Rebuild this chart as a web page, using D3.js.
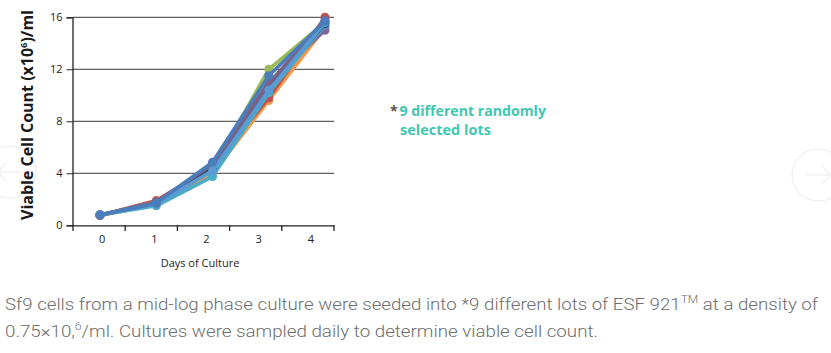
<!DOCTYPE html>
<html><head><meta charset="utf-8">
<script src="https://cdn.jsdelivr.net/npm/d3@7"></script>
<style>body{margin:0;background:#fff;}svg{display:block;}</style>
</head><body>
<script>
const days = [0, 1, 2, 3, 4];
const yTicks = [0, 4, 8, 12, 16];
const lotNames = ["Lot 1","Lot 2","Lot 3","Lot 4","Lot 5","Lot 6","Lot 7","Lot 8","Lot 9"];
const lotColors = ["#f79646","#c0504d","#9bbb59","#8064a2","#4bacc6","#2c4d75","#7f6084","#5b9bd5","#4a7ebb"];
const lot1 = [0.75, 1.6, 4.0, 9.6, 15.2];
const lot2 = [0.75, 1.9, 4.5, 9.8, 16.0];
const lot3 = [0.8, 1.8, 4.3, 12.0, 15.6];
const lot4 = [0.8, 1.75, 4.6, 11.0, 15.0];
const lot5 = [0.8, 1.5, 3.75, 10.2, 15.4];
const lot6 = [0.8, 1.7, 4.4, 10.6, 15.5];
const lot7 = [0.8, 1.8, 4.7, 10.9, 15.8];
const lot8 = [0.8, 1.65, 4.2, 10.4, 15.6];
const lot9 = [0.8, 1.7, 4.85, 11.5, 15.7];
const lots = [lot1, lot2, lot3, lot4, lot5, lot6, lot7, lot8, lot9];

const W = 831, H = 353;
const svg = d3.select("body").append("svg").attr("width", W).attr("height", H);

// faint carousel arrows
function arrow(cx, cy, dir){
  const g = svg.append("g").attr("stroke", "#eeeeee").attr("fill", "none").attr("stroke-width", 1.2);
  g.append("circle").attr("cx", cx).attr("cy", cy).attr("r", 26);
  g.append("line").attr("x1", cx - 12*dir).attr("y1", cy).attr("x2", cx + 12*dir).attr("y2", cy);
  g.append("polyline").attr("points", `${cx+4*dir},${cy-9} ${cx+12*dir},${cy} ${cx+4*dir},${cy+9}`);
}
arrow(818, 175, 1);
arrow(10, 172, -1);

const yScale = d3.scaleLinear().domain([0, 16]).range([225.3, 17.3]);
const xBand = d3.scaleBand().domain(days).range([73, 334]);
const xData = d3.scaleLinear().domain([0, 4]).range([100, 325]);

// gridlines
svg.append("g").selectAll("line").data(yTicks.filter(d => d > 0)).join("line")
  .attr("x1", 72.5).attr("x2", 334).attr("y1", d => yScale(d)).attr("y2", d => yScale(d))
  .attr("stroke", "#3a3a3a").attr("stroke-width", 1);

// y axis
const yAxis = svg.append("g").attr("transform", "translate(72.5,0)")
  .call(d3.axisLeft(yScale).tickValues(yTicks).tickSize(6).tickPadding(4));
yAxis.select(".domain").attr("stroke", "#222").attr("stroke-width", 1.3);
yAxis.selectAll(".tick line").attr("stroke", "#222");
yAxis.selectAll(".tick text").attr("font-family", "Open Sans, sans-serif").attr("font-size", 11).attr("fill", "#222");

// x axis
const xAxis = svg.append("g").attr("transform", "translate(0,225.3)")
  .call(d3.axisBottom(xBand).tickSize(0).tickPadding(10));
xAxis.select(".domain").attr("stroke", "#222").attr("stroke-width", 1.3);
xAxis.selectAll(".tick text").attr("font-family", "Open Sans, sans-serif").attr("font-size", 11).attr("fill", "#222").attr("dx", 3);
svg.append("g").selectAll("line").data(days.concat([5])).join("line")
  .attr("x1", (d, i) => i < 5 ? xBand(d) : xBand(4) + xBand.bandwidth())
  .attr("x2", (d, i) => i < 5 ? xBand(d) : xBand(4) + xBand.bandwidth())
  .attr("y1", 225.3).attr("y2", 231).attr("stroke", "#222").attr("stroke-width", 1.3);

// axis titles
svg.append("text").attr("x", 200).attr("y", 267).attr("text-anchor", "middle")
  .attr("font-family", "Open Sans, sans-serif").attr("font-size", 11).attr("fill", "#222").text("Days of Culture");

const yt = svg.append("text").attr("transform", "translate(33,115) rotate(-90)").attr("text-anchor", "middle")
  .attr("font-family", "Open Sans, sans-serif").attr("font-weight", 700).attr("font-size", 15.5).attr("fill", "#1a1a1a");
yt.append("tspan").text("Viable Cell Count (x10");
yt.append("tspan").attr("font-size", 9).attr("dy", -6).text("6");
yt.append("tspan").attr("dy", 6).text(")/ml");
yt.attr("textLength", 210).attr("lengthAdjust", "spacingAndGlyphs");

// series
const line = d3.line().x((d, i) => xData(days[i])).y(d => yScale(d));
const series = svg.append("g").selectAll("g").data(lots).join("g");
series.append("path").attr("d", d => line(d)).attr("fill", "none")
  .attr("stroke", (d, i) => lotColors[i]).attr("stroke-width", 3.6).attr("stroke-linejoin", "round");
series.selectAll("circle").data((d, i) => d.map(v => ({v, c: lotColors[i]}))).join("circle")
  .attr("cx", (d, j) => xData(days[j])).attr("cy", d => yScale(d.v)).attr("r", 4.5)
  .attr("fill", d => d.c);

// legend note
const note1 = svg.append("text").attr("x", 390).attr("y", 116)
  .attr("font-family", "Open Sans, sans-serif").attr("font-weight", 700).attr("font-size", 15);
note1.append("tspan").attr("fill", "#555").text("*");
note1.append("tspan").attr("fill", "#3ec8b2").attr("dx", 2).text("9 different randomly");
note1.attr("textLength", 156).attr("lengthAdjust", "spacingAndGlyphs");
svg.append("text").attr("x", 400).attr("y", 135)
  .attr("font-family", "Open Sans, sans-serif").attr("font-weight", 700).attr("font-size", 15)
  .attr("fill", "#3ec8b2").attr("textLength", 91).attr("lengthAdjust", "spacingAndGlyphs").text("selected lots");

// caption
const c1 = svg.append("text").attr("x", 5).attr("y", 310)
  .attr("font-family", "Roboto, sans-serif").attr("font-weight", 300).attr("font-size", 17).attr("fill", "#6e6e6e");
c1.append("tspan").text("Sf9 cells from a mid-log phase culture were seeded into *9 different lots of ESF 921");
c1.append("tspan").attr("font-size", 11).attr("dy", -7).text("TM");
c1.append("tspan").attr("dy", 7).text(" at a density of");
c1.attr("textLength", 813).attr("lengthAdjust", "spacingAndGlyphs");
const c2 = svg.append("text").attr("x", 5).attr("y", 337)
  .attr("font-family", "Roboto, sans-serif").attr("font-weight", 300).attr("font-size", 17).attr("fill", "#6e6e6e");
c2.append("tspan").text("0.75×10,");
c2.append("tspan").attr("font-size", 11).attr("dy", -7).text("6");
c2.append("tspan").attr("dy", 7).text("/ml. Cultures were sampled daily to determine viable cell count.");
c2.attr("textLength", 593).attr("lengthAdjust", "spacingAndGlyphs");
</script>
</body></html>
